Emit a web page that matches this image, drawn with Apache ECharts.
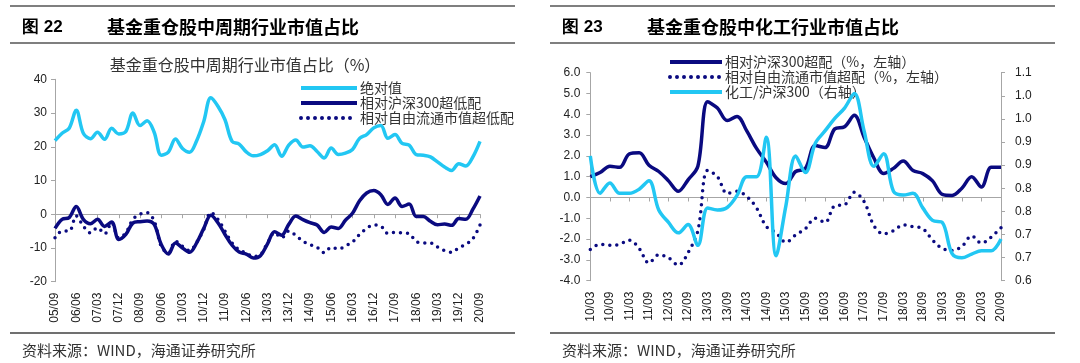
<!DOCTYPE html>
<html>
<head>
<meta charset="utf-8">
<script src="https://cdn.jsdelivr.net/npm/echarts@6/dist/echarts.min.js"></script>
<style>
html,body{margin:0;padding:0;background:#fff;}
#c{width:1080px;height:363px;}
</style>
</head>
<body>
<div id="c"></div>
<script>
// ---------- Figure 22 data (quarterly, 05/09 - 20/09) ----------
const leftCats = ['05/09','05/12','06/03','06/06','06/09','06/12','07/03','07/06','07/09','07/12',
  '08/03','08/06','08/09','08/12','09/03','09/06','09/09','09/12','10/03','10/06',
  '10/09','10/12','11/03','11/06','11/09','11/12','12/03','12/06','12/09','12/12',
  '13/03','13/06','13/09','13/12','14/03','14/06','14/09','14/12','15/03','15/06',
  '15/09','15/12','16/03','16/06','16/09','16/12','17/03','17/06','17/09','17/12',
  '18/03','18/06','18/09','18/12','19/03','19/06','19/09','19/12','20/03','20/06','20/09'];
const absVal = [21.8,24,25.5,30.8,24,22.4,24.3,22.2,25.5,23.8,
  24.5,30,26.3,27.7,24.3,17.5,18.4,22.3,19.5,18.4,
  21.8,27.5,34.5,32,28,21.6,20.8,18.5,17.3,17.7,
  18.8,20.6,17.2,20.5,22,19.9,20.3,18.6,16.7,19.6,
  17.7,18.1,19.2,22.5,23.6,25.6,26.3,22.5,23.6,21,
  20.5,17.7,17.5,17,15.5,14,13,15,14.3,17,21.6];
const rel300 = [-4.2,-1.5,-1.0,2.3,-1.5,-2.8,-1.5,-3.6,-2.3,-7.5,
  -6,-2.6,-2.2,-2,-3,-9,-11.8,-8.5,-10,-11.3,
  -8.5,-4.2,-0.3,-2.5,-6,-9.2,-11.2,-11.8,-13,-12.3,
  -8.8,-5.2,-6.2,-3,-0.5,-1.6,-2.5,-3.2,-5.4,-3.8,
  -4.2,-1.8,0.3,4,6.3,7,5.8,2.9,4.8,2.3,
  3,-0.7,-0.7,-2.1,-3.1,-2.9,-3.3,-1.3,-1.5,1.5,5.4];
const relFree = [-7,-5,-5,-0.5,-3.5,-5.5,-4,-5.8,-2.5,-7,
  -5.5,-1.5,0,0.5,-2,-9.5,-11.5,-8,-9.5,-10.8,
  -8.3,-4.5,0.5,-1.5,-5,-8.5,-10.5,-11.5,-12.5,-12,
  -8.5,-5.5,-7,-5,-6.3,-8,-9,-9.8,-11.4,-9.8,
  -10.3,-9.4,-8.2,-6,-4.2,-3.2,-3.5,-5.7,-5.4,-5.5,
  -5.8,-8.1,-8.5,-8.5,-9.7,-10.8,-11.3,-9.9,-8.9,-7.2,-3.2];
const leftNames = ['绝对值','相对沪深300超低配','相对自由流通市值超低配'];

// ---------- Figure 23 data (quarterly, 10/03 - 20/09) ----------
const rightCats = ['10/03','10/06','10/09','10/12','11/03','11/06','11/09','11/12','12/03','12/06',
  '12/09','12/12','13/03','13/06','13/09','13/12','14/03','14/06','14/09','14/12',
  '15/03','15/06','15/09','15/12','16/03','16/06','16/09','16/12','17/03','17/06',
  '17/09','17/12','18/03','18/06','18/09','18/12','19/03','19/06','19/09','19/12',
  '20/03','20/06','20/09'];
const r300 = [1.0,1.2,1.5,1.45,2.1,2.15,1.55,1.25,0.8,0.3,
  0.85,1.5,4.6,4.3,3.7,3.9,3.2,2.36,1.7,0.95,
  0.67,1.25,1.4,2.5,2.4,3.3,3.4,3.95,2.9,1.9,
  1.15,1.4,1.75,1.3,1.15,0.8,0.15,0.1,0.45,1.0,
  0.5,1.45,1.45];
const rFree = [-2.5,-2.25,-2.3,-2.25,-2.05,-2.45,-3.15,-2.75,-2.9,-3.25,
  -2.65,-1.6,1.3,1.0,0.2,0.3,0.05,-0.5,-1.4,-1.7,
  -2.15,-1.8,-1.5,-1.0,-1.2,-0.4,-0.35,0.25,-0.2,-1.35,
  -1.75,-1.6,-1.32,-1.4,-1.5,-2.05,-2.45,-2.55,-2.35,-1.85,
  -2.2,-1.9,-1.45];
const ratio = [0.90,0.81,0.835,0.81,0.81,0.82,0.84,0.77,0.74,0.715,
  0.735,0.685,0.775,0.77,0.776,0.805,0.85,0.85,0.945,0.66,
  0.78,0.9,0.86,0.93,0.96,0.99,1.015,1.05,0.96,0.875,
  0.905,0.815,0.806,0.81,0.775,0.745,0.74,0.665,0.655,0.664,
  0.672,0.672,0.70];
const rightNames = ['相对沪深300超配（%，左轴）','相对自由流通市值超配（%，左轴）','化工/沪深300（右轴）'];

const CYAN = '#22C7F3';
const NAVY = '#0A0A80';
const AXIS = '#A6A6A6';
const NUMFONT = 'Liberation Sans, Arial, sans-serif';
const CJK = 'Noto Sans CJK SC, sans-serif';

const chart = echarts.init(document.getElementById('c'), null, {renderer: 'canvas'});

function panelGraphics(x0, x1, fig, title) {
  return [
    {type: 'line', shape: {x1: x0, y1: 6, x2: x1, y2: 6}, style: {stroke: '#7F7F7F', lineWidth: 2}},
    {type: 'text', x: x0 + 12, y: 27, style: {text: fig, font: 'bold 17px ' + NUMFONT, fill: '#000', verticalAlign: 'middle'}},
    {type: 'text', x: x0 + 97, y: 27, style: {text: title, font: 'bold 18px ' + CJK, fill: '#000', verticalAlign: 'middle'}},
    {type: 'line', shape: {x1: x0, y1: 43, x2: x1, y2: 43}, style: {stroke: '#7F7F7F', lineWidth: 2}},
    {type: 'line', shape: {x1: x0, y1: 333, x2: x1, y2: 333}, style: {stroke: '#404040', lineWidth: 1.5}},
    {type: 'text', x: x0 + 12, y: 350, style: {text: '资料来源：WIND，海通证券研究所', font: '15px ' + CJK, fill: '#333', verticalAlign: 'middle'}}
  ];
}

const lineBase = {type: 'line', symbol: 'none', smooth: 0.35, animation: false};
const legendBase = {
  orient: 'vertical', itemGap: 1,
  itemStyle: {opacity: 0},
  lineStyle: {width: 4},
  textStyle: {fontFamily: CJK, fontSize: 14, color: '#333', padding: [0, 0, 0, -2]}
};

const option = {
  animation: false,
  backgroundColor: '#fff',
  title: [{
    text: '基金重仓股中周期行业市值占比（%）',
    left: 240, top: 52, textAlign: 'center',
    textStyle: {fontFamily: CJK, fontSize: 16, fontWeight: 'normal', color: '#333'}
  }],
  legend: [
    Object.assign({}, legendBase, {left: 294, top: 76, itemWidth: 56, itemHeight: 13, data: leftNames}),
    Object.assign({}, legendBase, {left: 663, top: 50, itemWidth: 52, itemHeight: 14, data: rightNames})
  ],
  grid: [
    {left: 55, right: 600, top: 79.3, bottom: 81.3, containLabel: false},
    {left: 590.3, right: 79, top: 72.7, bottom: 82.3, containLabel: false}
  ],
  xAxis: [
    {gridIndex: 0, type: 'category', data: leftCats, boundaryGap: false, position: 'bottom',
     axisLine: {show: false, onZero: false}, axisTick: {show: false},
     axisLabel: {interval: 2, rotate: 90, margin: 11, fontFamily: NUMFONT, fontSize: 12, color: '#222'}},
    {gridIndex: 0, type: 'category', data: leftCats, boundaryGap: false, position: 'bottom',
     axisLine: {show: true, onZero: true, lineStyle: {color: AXIS, width: 1}},
     axisTick: {show: true, interval: 2, length: 4, lineStyle: {color: AXIS}},
     axisLabel: {show: false}},
    {gridIndex: 1, type: 'category', data: rightCats, boundaryGap: false, position: 'bottom',
     axisLine: {show: false, onZero: false}, axisTick: {show: false},
     axisLabel: {interval: 1, rotate: 90, margin: 11, fontFamily: NUMFONT, fontSize: 12, color: '#222'}},
    {gridIndex: 1, type: 'category', data: rightCats, boundaryGap: false, position: 'bottom',
     axisLine: {show: true, onZero: true, lineStyle: {color: AXIS, width: 1}},
     axisTick: {show: true, interval: 1, length: 4, lineStyle: {color: AXIS}},
     axisLabel: {show: false}}
  ],
  yAxis: [
    {gridIndex: 0, type: 'value', min: -20, max: 40, interval: 10,
     axisLine: {show: true, lineStyle: {color: AXIS}}, axisTick: {show: true, length: 4, lineStyle: {color: AXIS}},
     splitLine: {show: false},
     axisLabel: {margin: 8, fontFamily: NUMFONT, fontSize: 12, color: '#222'}},
    {gridIndex: 1, type: 'value', position: 'left', min: -4, max: 6, interval: 1,
     axisLine: {show: true, lineStyle: {color: AXIS}}, axisTick: {show: true, length: 4, lineStyle: {color: AXIS}},
     splitLine: {show: false},
     axisLabel: {margin: 10, fontFamily: NUMFONT, fontSize: 12, color: '#222', formatter: v => v.toFixed(1)}},
    {gridIndex: 1, type: 'value', position: 'right', min: 0.6, max: 1.1, interval: 0.5 / 9,
     axisLine: {show: true, lineStyle: {color: AXIS}}, axisTick: {show: true, length: 4, lineStyle: {color: AXIS}},
     splitLine: {show: false},
     axisLabel: {margin: 14, fontFamily: NUMFONT, fontSize: 12, color: '#222', formatter: v => v.toFixed(1)}}
  ],
  series: [
    Object.assign({}, lineBase, {name: leftNames[0], xAxisIndex: 0, yAxisIndex: 0, data: absVal, z: 3,
      lineStyle: {color: CYAN, width: 3.5}, itemStyle: {color: CYAN}}),
    Object.assign({}, lineBase, {name: leftNames[1], xAxisIndex: 0, yAxisIndex: 0, data: rel300, z: 4,
      lineStyle: {color: NAVY, width: 3.5}, itemStyle: {color: NAVY}}),
    Object.assign({}, lineBase, {name: leftNames[2], xAxisIndex: 0, yAxisIndex: 0, data: relFree, z: 2,
      lineStyle: {color: NAVY, width: 3.5, type: [0, 7], cap: 'round'}, itemStyle: {color: NAVY}}),
    Object.assign({}, lineBase, {name: rightNames[0], xAxisIndex: 2, yAxisIndex: 1, data: r300, z: 3,
      lineStyle: {color: NAVY, width: 3.5}, itemStyle: {color: NAVY}}),
    Object.assign({}, lineBase, {name: rightNames[1], xAxisIndex: 2, yAxisIndex: 1, data: rFree, z: 2,
      lineStyle: {color: NAVY, width: 3.5, type: [0, 7], cap: 'round'}, itemStyle: {color: NAVY}}),
    Object.assign({}, lineBase, {name: rightNames[2], xAxisIndex: 2, yAxisIndex: 2, data: ratio, z: 4,
      lineStyle: {color: CYAN, width: 3.5}, itemStyle: {color: CYAN}})
  ],
  graphic: panelGraphics(10, 515, '图 22', '基金重仓股中周期行业市值占比')
    .concat(panelGraphics(550, 1055, '图 23', '基金重仓股中化工行业市值占比'))
};
chart.setOption(option);
</script>
</body>
</html>
